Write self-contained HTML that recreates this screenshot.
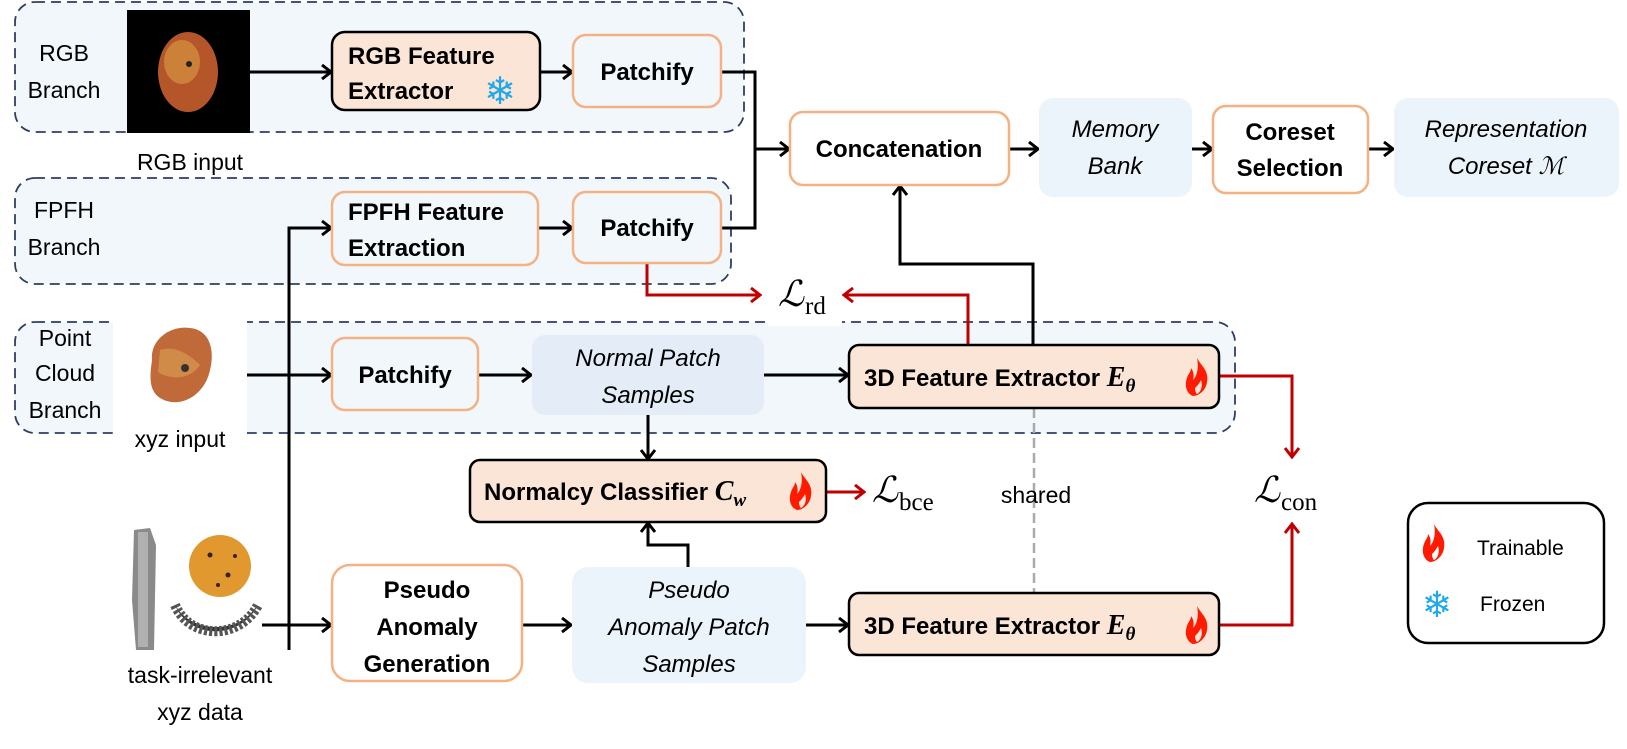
<!DOCTYPE html>
<html><head><meta charset="utf-8"><style>
html,body{margin:0;padding:0;background:#fff;}
svg{display:block;}
text{font-family:"Liberation Sans",sans-serif;}
.b{font-weight:bold;font-size:24px;fill:#000;}
.i{font-style:italic;font-size:24px;fill:#000;}
.n{font-size:23px;fill:#000;}
.m{font-family:"Liberation Serif","DejaVu Serif",serif;}
</style></head><body>
<svg width="1627" height="749" viewBox="0 0 1627 749" xmlns="http://www.w3.org/2000/svg">
<defs>
<marker id="ak" markerWidth="12" markerHeight="16" refX="10" refY="8" orient="auto" markerUnits="userSpaceOnUse">
<path d="M1,1 L10,8 L1,15" fill="none" stroke="#000" stroke-width="3"/></marker>
<marker id="ar" markerWidth="12" markerHeight="16" refX="10" refY="8" orient="auto" markerUnits="userSpaceOnUse">
<path d="M1,1 L10,8 L1,15" fill="none" stroke="#c00000" stroke-width="3"/></marker>
<g id="flame"><path d="M12,0 C16,8 24,12 22,24 C21,32 14,38 8,38 C2,36 -1,28 2,20 C3,16 6,14 6,10 C9,14 9,18 8,22 C12,18 14,10 12,0 Z M12,36 C16,34 18,28 16,22 C14,26 12,28 10,30 C10,33 11,35 12,36Z" fill="#ff1a00" fill-rule="evenodd"/></g>
</defs>

<rect x="15" y="2" width="729" height="130" rx="20" fill="#f2f7fc" stroke="#2f3f60" stroke-width="1.8" stroke-dasharray="10,6"/>
<rect x="15" y="178" width="716" height="106" rx="20" fill="#f2f7fc" stroke="#2f3f60" stroke-width="1.8" stroke-dasharray="10,6"/>
<rect x="15" y="322" width="1220" height="111" rx="20" fill="#f2f7fc" stroke="#2f3f60" stroke-width="1.8" stroke-dasharray="10,6"/>
<rect x="113" y="313" width="134" height="128" fill="#fff"/>
<rect x="768" y="280" width="74" height="46" fill="#fff"/>

<text class="n" x="64" y="61" text-anchor="middle">RGB</text>
<text class="n" x="64" y="98" text-anchor="middle">Branch</text>
<text class="n" x="64" y="218" text-anchor="middle">FPFH</text>
<text class="n" x="64" y="255" text-anchor="middle">Branch</text>
<text class="n" x="65" y="346" text-anchor="middle">Point</text>
<text class="n" x="65" y="381" text-anchor="middle">Cloud</text>
<text class="n" x="65" y="418" text-anchor="middle">Branch</text>

<rect x="127" y="10" width="123" height="123" fill="#000"/>
<ellipse cx="188" cy="72" rx="30" ry="40" fill="#b5552a"/>
<ellipse cx="182" cy="62" rx="18" ry="22" fill="#d69440" opacity="0.7"/>
<circle cx="189" cy="64" r="3" fill="#222"/>
<text class="n" x="190" y="170" text-anchor="middle">RGB input</text>

<path d="M152,360 C150,340 170,325 190,328 C210,330 215,350 210,370 C205,395 180,410 160,398 C148,390 150,375 152,360Z" fill="#c06a3a"/>
<path d="M160,350 C175,345 190,355 200,365 C190,380 170,380 158,372Z" fill="#d99a50" opacity="0.7"/>
<circle cx="185" cy="368" r="4" fill="#333"/>
<text class="n" x="180" y="447" text-anchor="middle">xyz input</text>

<path d="M134,530 L150,528 L156,545 L154,650 L136,650 L132,600 Z" fill="#8a8a8a"/>
<rect x="138" y="532" width="10" height="115" fill="#b0b0b0"/>
<circle cx="220" cy="566" r="31" fill="#e0982f"/>
<circle cx="210" cy="555" r="2.5" fill="#3a2010"/><circle cx="228" cy="575" r="2.5" fill="#3a2010"/><circle cx="218" cy="585" r="2" fill="#3a2010"/><circle cx="235" cy="556" r="2" fill="#3a2010"/>
<path d="M175,605 C190,640 240,640 258,605 L252,612 C235,632 198,632 180,612Z" fill="#333"/>
<path d="M175,605 C190,640 240,640 258,605" fill="none" stroke="#555" stroke-width="10" stroke-dasharray="3,2"/>
<text class="n" x="200" y="683" text-anchor="middle">task-irrelevant</text>
<text class="n" x="200" y="720" text-anchor="middle">xyz data</text>

<g stroke="#000" stroke-width="3" fill="none">
<line x1="250" y1="72" x2="331" y2="72" marker-end="url(#ak)"/>
<line x1="540" y1="72" x2="572" y2="72" marker-end="url(#ak)"/>
<line x1="538" y1="228" x2="572" y2="228" marker-end="url(#ak)"/>
<polyline points="721,72 755,72 755,228 721,228"/>
<line x1="755" y1="149" x2="789" y2="149" marker-end="url(#ak)"/>
<line x1="1009" y1="149" x2="1038" y2="149" marker-end="url(#ak)"/>
<line x1="1192" y1="149" x2="1212" y2="149" marker-end="url(#ak)"/>
<line x1="1368" y1="149" x2="1393" y2="149" marker-end="url(#ak)"/>
<polyline points="289,650 289,228 331,228" marker-end="url(#ak)"/>
<line x1="247" y1="375" x2="331" y2="375" marker-end="url(#ak)"/>
<line x1="262" y1="625" x2="331" y2="625" marker-end="url(#ak)"/>
<line x1="478" y1="375" x2="531" y2="375" marker-end="url(#ak)"/>
<line x1="764" y1="375" x2="848" y2="375" marker-end="url(#ak)"/>
<line x1="648" y1="415" x2="648" y2="459" marker-end="url(#ak)"/>
<polyline points="688,567 688,545 648,545 648,523" marker-end="url(#ak)"/>
<line x1="522" y1="625" x2="571" y2="625" marker-end="url(#ak)"/>
<line x1="806" y1="625" x2="848" y2="625" marker-end="url(#ak)"/>
<polyline points="1033,345 1033,264 900,264 900,186" marker-end="url(#ak)"/>
</g>
<line x1="1034" y1="408" x2="1034" y2="593" stroke="#aaa" stroke-width="2.5" stroke-dasharray="10,5"/>

<g stroke="#c00000" stroke-width="3" fill="none">
<polyline points="647,263 647,295 760,295" marker-end="url(#ar)"/>
<polyline points="968,345 968,295 844,295" marker-end="url(#ar)"/>
<polyline points="1219,376 1292,376 1292,457" marker-end="url(#ar)"/>
<polyline points="1219,625 1292,625 1292,524" marker-end="url(#ar)"/>
<line x1="826" y1="492" x2="864" y2="492" marker-end="url(#ar)"/>
</g>

<rect x="332" y="32" width="208" height="78" rx="13" fill="#fbe5d6" stroke="#000" stroke-width="2.5"/>
<text class="b" x="348" y="64">RGB Feature</text>
<text class="b" x="348" y="99">Extractor</text>
<text x="500" y="104" font-size="38" fill="#1fa8ea" text-anchor="middle" font-family="DejaVu Sans">❄</text>

<rect x="573" y="35" width="148" height="72" rx="13" fill="#f2f7fc" stroke="#f4b183" stroke-width="2.5"/>
<text class="b" x="647" y="80" text-anchor="middle">Patchify</text>

<rect x="332" y="192" width="206" height="73" rx="13" fill="#f2f7fc" stroke="#f4b183" stroke-width="2.5"/>
<text class="b" x="348" y="220">FPFH Feature</text>
<text class="b" x="348" y="256">Extraction</text>
<rect x="573" y="192" width="148" height="71" rx="13" fill="#f2f7fc" stroke="#f4b183" stroke-width="2.5"/>
<text class="b" x="647" y="236" text-anchor="middle">Patchify</text>

<rect x="790" y="112" width="219" height="73" rx="13" fill="#fff" stroke="#f4b183" stroke-width="2.5"/>
<text class="b" x="899" y="157" text-anchor="middle">Concatenation</text>
<rect x="1039" y="98" width="153" height="99" rx="14" fill="#ebf3fb"/>
<text class="i" x="1115" y="137" text-anchor="middle">Memory</text>
<text class="i" x="1115" y="174" text-anchor="middle">Bank</text>
<rect x="1213" y="106" width="155" height="87" rx="13" fill="#fff" stroke="#f4b183" stroke-width="2.5"/>
<text class="b" x="1290" y="140" text-anchor="middle">Coreset</text>
<text class="b" x="1290" y="176" text-anchor="middle">Selection</text>
<rect x="1394" y="98" width="225" height="99" rx="14" fill="#ebf3fb"/>
<text class="i" x="1506" y="137" text-anchor="middle">Representation</text>
<text class="i" x="1506" y="174" text-anchor="middle">Coreset <tspan class="m">ℳ</tspan></text>

<rect x="332" y="338" width="146" height="72" rx="13" fill="#f2f7fc" stroke="#f4b183" stroke-width="2.5"/>
<text class="b" x="405" y="383" text-anchor="middle">Patchify</text>
<rect x="532" y="335" width="232" height="80" rx="13" fill="#e4edf7"/>
<text class="i" x="648" y="366" text-anchor="middle">Normal Patch</text>
<text class="i" x="648" y="403" text-anchor="middle">Samples</text>

<rect x="849" y="345" width="370" height="63" rx="10" fill="#fbe5d6" stroke="#000" stroke-width="2.5"/>
<text class="b" x="864" y="386">3D Feature Extractor <tspan class="m" font-style="italic" font-size="28">E</tspan><tspan class="m" font-style="italic" font-size="19" dy="6">θ</tspan></text>
<use href="#flame" x="1185" y="358"/>

<rect x="470" y="460" width="356" height="62" rx="10" fill="#fbe5d6" stroke="#000" stroke-width="2.5"/>
<text class="b" x="484" y="500">Normalcy Classifier <tspan class="m" font-style="italic" font-size="28">C</tspan><tspan class="m" font-style="italic" font-size="19" dy="6">w</tspan></text>
<use href="#flame" x="789" y="472"/>

<rect x="332" y="565" width="190" height="116" rx="18" fill="#fff" stroke="#f4b183" stroke-width="2.5"/>
<text class="b" x="427" y="598" text-anchor="middle">Pseudo</text>
<text class="b" x="427" y="635" text-anchor="middle">Anomaly</text>
<text class="b" x="427" y="672" text-anchor="middle">Generation</text>
<rect x="572" y="567" width="234" height="116" rx="16" fill="#ebf3fb"/>
<text class="i" x="689" y="598" text-anchor="middle">Pseudo</text>
<text class="i" x="689" y="635" text-anchor="middle">Anomaly Patch</text>
<text class="i" x="689" y="672" text-anchor="middle">Samples</text>

<rect x="849" y="593" width="370" height="62" rx="10" fill="#fbe5d6" stroke="#000" stroke-width="2.5"/>
<text class="b" x="864" y="634">3D Feature Extractor <tspan class="m" font-style="italic" font-size="28">E</tspan><tspan class="m" font-style="italic" font-size="19" dy="6">θ</tspan></text>
<use href="#flame" x="1185" y="606"/>

<text class="m" x="778" y="306" font-size="36" font-style="italic">ℒ</text><text class="m" x="805" y="314" font-size="25">rd</text>
<text class="m" x="872" y="502" font-size="36" font-style="italic">ℒ</text><text class="m" x="899" y="510" font-size="25">bce</text>
<text class="m" x="1254" y="502" font-size="36" font-style="italic">ℒ</text><text class="m" x="1281" y="510" font-size="25">con</text>
<text class="n" x="1036" y="503" text-anchor="middle">shared</text>

<rect x="1408" y="503" width="196" height="140" rx="20" fill="#fff" stroke="#000" stroke-width="2.5"/>
<use href="#flame" x="1422" y="524"/>
<text x="1477" y="555" font-size="21" fill="#000">Trainable</text>
<text x="1437" y="617" font-size="36" fill="#1fa8ea" text-anchor="middle" font-family="DejaVu Sans">❄</text>
<text x="1480" y="611" font-size="21" fill="#000">Frozen</text>
</svg>
</body></html>
